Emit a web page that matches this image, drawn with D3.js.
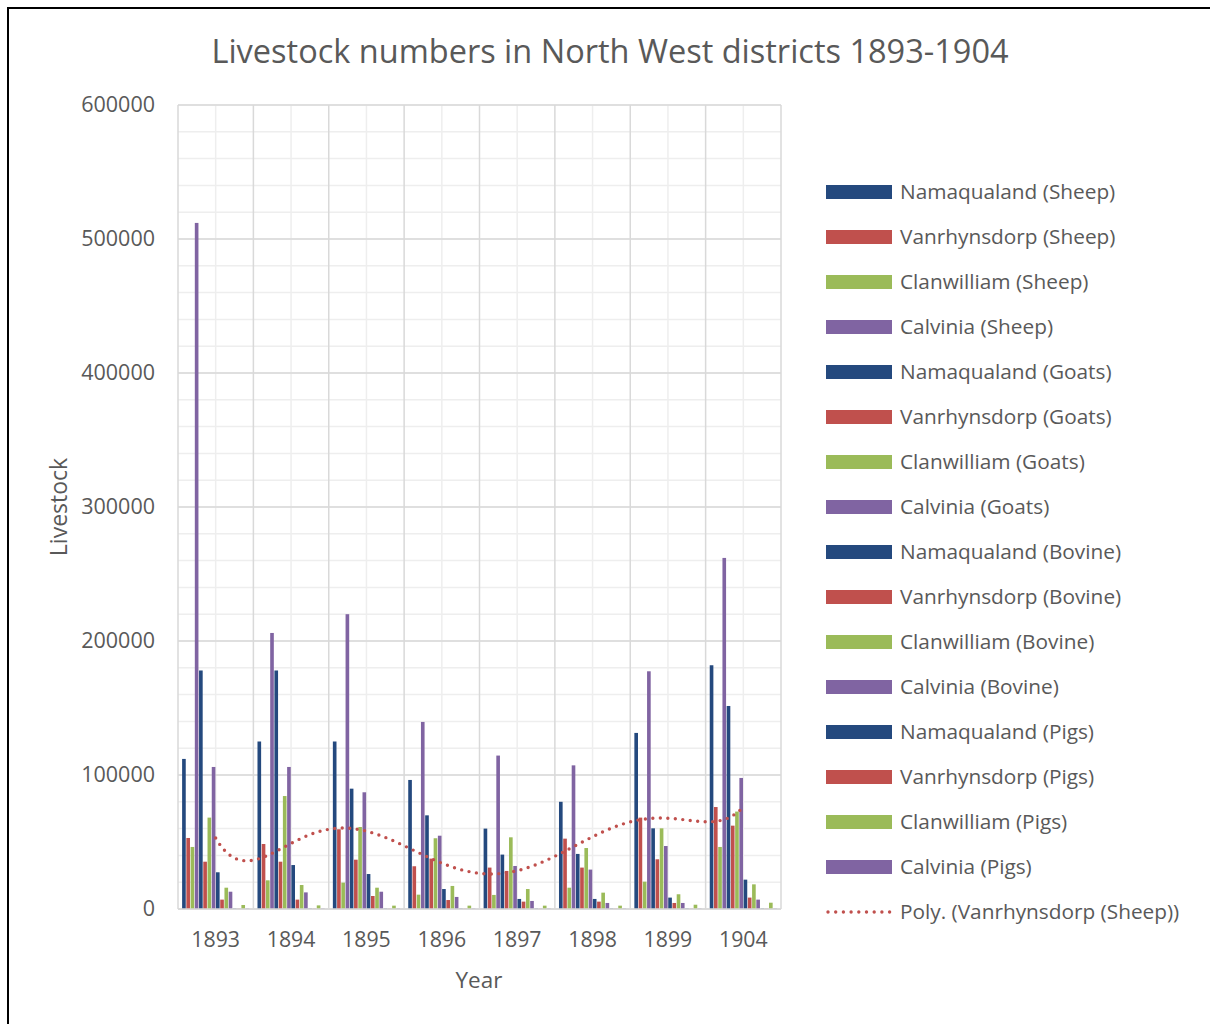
<!DOCTYPE html>
<html><head><meta charset="utf-8">
<script src="https://cdn.jsdelivr.net/npm/d3@7"></script>
<style>body{margin:0;background:#fff}svg{display:block}</style>
</head><body>
<script>
const years = ["1893","1894","1895","1896","1897","1898","1899","1904"];
const seriesNames = ["Namaqualand (Sheep)","Vanrhynsdorp (Sheep)","Clanwilliam (Sheep)","Calvinia (Sheep)",
 "Namaqualand (Goats)","Vanrhynsdorp (Goats)","Clanwilliam (Goats)","Calvinia (Goats)",
 "Namaqualand (Bovine)","Vanrhynsdorp (Bovine)","Clanwilliam (Bovine)","Calvinia (Bovine)",
 "Namaqualand (Pigs)","Vanrhynsdorp (Pigs)","Clanwilliam (Pigs)","Calvinia (Pigs)"];
const seriesColors = ["#24497E","#C0504D","#9BBB59","#8064A2","#24497E","#C0504D","#9BBB59","#8064A2",
 "#24497E","#C0504D","#9BBB59","#8064A2","#24497E","#C0504D","#9BBB59","#8064A2"];
const yTicks = [0,100000,200000,300000,400000,500000,600000];

const namaqualandSheep  = [112000,125000,125000, 96300, 60000, 80000,131400,181900];
const vanrhynsdorpSheep = [ 53000, 48500, 59500, 31900, 30900, 52500, 68200, 76100];
const clanwilliamSheep  = [ 46300, 21400, 19700, 10700, 10500, 15900, 20400, 46300];
const calviniaSheep     = [512000,206000,220000,139600,114500,107200,177400,262000];
const namaqualandGoats  = [178000,178000, 89800, 69900, 40600, 41100, 60200,151500];
const vanrhynsdorpGoats = [ 35300, 35300, 36800, 37600, 28400, 30900, 37100, 62200];
const clanwilliamGoats  = [ 68200, 84300, 61200, 52800, 53500, 45500, 60200, 72700];
const calviniaGoats     = [106000,106000, 87100, 54700, 32100, 29400, 47000, 97800];
const namaqualandBovine = [ 27400, 32800, 26100, 14900,  7500,  7500,  8500, 21900];
const vanrhynsdorpBovine= [  7000,  7000,  9700,  6700,  5500,  5500,  4500,  8500];
const clanwilliamBovine = [ 15900, 17900, 15900, 17200, 14900, 12200, 11000, 18400];
const calviniaBovine    = [ 12900, 12400, 12900,  9000,  6000,  4500,  4500,  7000];
const namaqualandPigs   = [   300,   300,   300,   300,   300,   300,   300,   300];
const vanrhynsdorpPigs  = [   200,   200,   200,   200,   200,   200,   200,   200];
const clanwilliamPigs   = [  3000,  2700,  2500,  2500,  2500,  2500,  3200,  4700];
const calviniaPigs      = [   300,   300,   300,   300,   300,   300,   300,   300];

const seriesValues = [namaqualandSheep,vanrhynsdorpSheep,clanwilliamSheep,calviniaSheep,
 namaqualandGoats,vanrhynsdorpGoats,clanwilliamGoats,calviniaGoats,
 namaqualandBovine,vanrhynsdorpBovine,clanwilliamBovine,calviniaBovine,
 namaqualandPigs,vanrhynsdorpPigs,clanwilliamPigs,calviniaPigs];

const W=1210,H=1024, FONT="'Open Sans', sans-serif", TXT="#595959";
const svg=d3.select("body").append("svg").attr("width",W).attr("height",H);
svg.append("rect").attr("x",8).attr("y",8).attr("width",W+10).attr("height",H+10)
  .attr("fill","#fff").attr("stroke","#000").attr("stroke-width",2);

const L=178,R=781,T=105,B=909;
const x0=d3.scaleBand().domain(years).range([L,R]).padding(0);
const bw0=x0.bandwidth(), barW=bw0/(16+1.8), gap=barW*1.8;
const x1=d3.scaleBand().domain(seriesNames).range([gap/2,bw0-gap/2]).padding(0);
const y=d3.scaleLinear().domain([0,600000]).range([B,T]);

const g=svg.append("g");
g.selectAll(".hmin").data(d3.range(0,600001,20000)).join("line")
 .attr("x1",L).attr("x2",R).attr("y1",d=>y(d)).attr("y2",d=>y(d))
 .attr("stroke","#eeeeee").attr("stroke-width",1.5);
g.selectAll(".vmin").data(years).join("line")
 .attr("x1",d=>x0(d)+bw0/2).attr("x2",d=>x0(d)+bw0/2).attr("y1",T).attr("y2",B)
 .attr("stroke","#eeeeee").attr("stroke-width",1.5);
g.selectAll(".hmaj").data(yTicks).join("line")
 .attr("x1",L).attr("x2",R).attr("y1",d=>y(d)).attr("y2",d=>y(d))
 .attr("stroke","#d9d9d9").attr("stroke-width",1.5);
g.selectAll(".vmaj").data(years.concat(["end"])).join("line")
 .attr("x1",(d,i)=>L+i*bw0).attr("x2",(d,i)=>L+i*bw0).attr("y1",T).attr("y2",B)
 .attr("stroke","#d9d9d9").attr("stroke-width",1.5);

const groups=svg.append("g").selectAll("g").data(years).join("g")
 .attr("transform",d=>`translate(${x0(d)},0)`);
groups.selectAll("rect").data((d,i)=>seriesNames.map((s,k)=>({s,k,v:seriesValues[k][i]}))).join("rect")
 .attr("x",d=>x1(d.s)+0.3).attr("width",x1.bandwidth()-0.6)
 .attr("y",d=>y(d.v)).attr("height",d=>B-y(d.v))
 .attr("fill",d=>seriesColors[d.k]);

svg.append("line").attr("x1",L).attr("x2",R).attr("y1",B).attr("y2",B)
 .attr("stroke","#d9d9d9").attr("stroke-width",1.5);

const yAxis=d3.axisLeft(y).tickValues(yTicks).tickSize(0).tickPadding(23).tickFormat(d3.format("d"));
const ya=svg.append("g").attr("transform",`translate(${L},0)`).call(yAxis);
ya.select(".domain").remove();
ya.selectAll("text").attr("font-family",FONT).attr("font-size",21.5).attr("fill",TXT);
const xAxis=d3.axisBottom(x0).tickSize(0).tickPadding(23);
const xa=svg.append("g").attr("transform",`translate(0,${B})`).call(xAxis);
xa.select(".domain").remove();
xa.selectAll("text").attr("font-family",FONT).attr("font-size",21.3).attr("fill",TXT);

function polyfit(xs,ys,order){
  const n=order+1, A=[],b=[];
  for(let r=0;r<n;r++){A.push(new Array(n).fill(0));b.push(0);}
  xs.forEach((xv,i)=>{for(let r=0;r<n;r++){b[r]+=ys[i]*Math.pow(xv,r);for(let c=0;c<n;c++)A[r][c]+=Math.pow(xv,r+c);}});
  for(let c=0;c<n;c++){let p=c;for(let r=c+1;r<n;r++)if(Math.abs(A[r][c])>Math.abs(A[p][c]))p=r;
    [A[c],A[p]]=[A[p],A[c]];[b[c],b[p]]=[b[p],b[c]];
    for(let r=0;r<n;r++){if(r===c)continue;const f=A[r][c]/A[c][c];for(let k=c;k<n;k++)A[r][k]-=f*A[c][k];b[r]-=f*b[c];}}
  return b.map((v,i)=>v/A[i][i]);
}
const xs=years.map((d,i)=>i+1-4.5);
const coef=polyfit(xs,vanrhynsdorpSheep,6);
const pv=t=>coef.reduce((s,c,i)=>s+c*Math.pow(t,i),0);
const xi=d3.scaleLinear().domain([1,8]).range([x0(years[0])+bw0/2,x0(years[7])+bw0/2]);
const pts=d3.range(1,8.0001,0.05).map(t=>[xi(t),y(pv(t-4.5))]);
svg.append("path").attr("d",d3.line()(pts)).attr("fill","none").attr("stroke","#C0504D")
 .attr("stroke-width",3.4).attr("stroke-linecap","round").attr("stroke-dasharray","0 7.5");

svg.append("text").attr("x",610).attr("y",63).attr("text-anchor","middle").attr("font-family",FONT)
 .attr("font-size",32.5).attr("fill",TXT).text("Livestock numbers in North West districts 1893-1904");
svg.append("text").attr("x",479).attr("y",988).attr("text-anchor","middle").attr("font-family",FONT)
 .attr("font-size",22.5).attr("fill",TXT).text("Year");
svg.append("text").attr("transform","translate(67,507) rotate(-90)").attr("text-anchor","middle").attr("font-family",FONT)
 .attr("font-size",23).attr("fill",TXT).text("Livestock");

const leg=svg.append("g");
const li=leg.selectAll("g").data(seriesNames).join("g").attr("transform",(d,i)=>`translate(826,${192+i*45})`);
li.append("rect").attr("x",0).attr("y",-7).attr("width",66).attr("height",14).attr("fill",(d,i)=>seriesColors[i]);
li.append("text").attr("x",74).attr("y",0).attr("dy","0.35em").attr("font-family",FONT).attr("font-size",20.8)
 .attr("fill",TXT).text(d=>d);
const lt=leg.append("g").attr("transform",`translate(826,${192+16*45})`);
lt.append("line").attr("x1",2).attr("x2",64).attr("y1",0).attr("y2",0).attr("stroke","#C0504D")
 .attr("stroke-width",3.4).attr("stroke-linecap","round").attr("stroke-dasharray","0 7.7");
lt.append("text").attr("x",74).attr("y",0).attr("dy","0.35em").attr("font-family",FONT).attr("font-size",20.8)
 .attr("fill",TXT).text("Poly. (Vanrhynsdorp (Sheep))");
</script>
</body></html>
